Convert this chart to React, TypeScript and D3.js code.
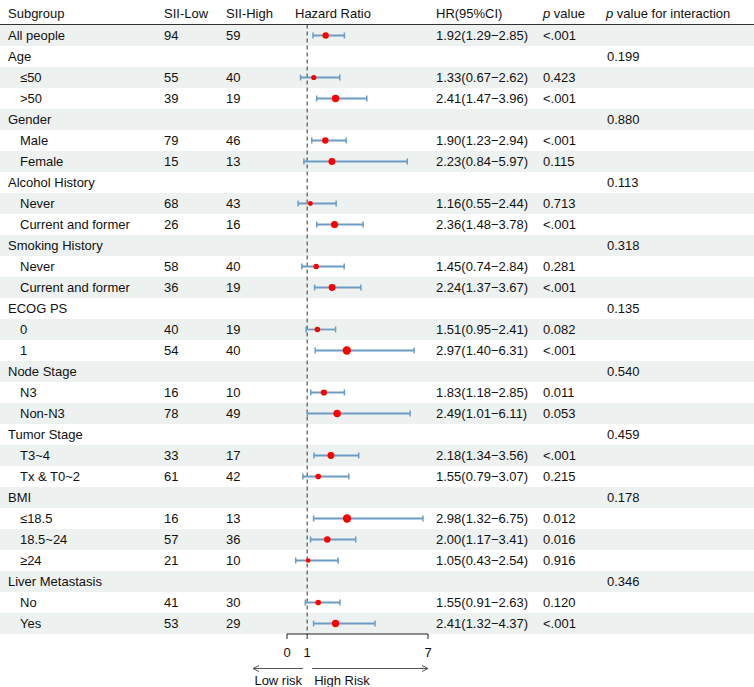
import React from "react";
import * as d3 from "d3";

const labels = ["All people","Age","≤50",">50","Gender","Male","Female","Alcohol History","Never","Current and former","Smoking History","Never","Current and former","ECOG PS","0","1","Node Stage","N3","Non-N3","Tumor Stage","T3~4","Tx & T0~2","BMI","≤18.5","18.5~24","≥24","Liver Metastasis","No","Yes"];
const isGroup = [false,true,false,false,true,false,false,true,false,false,true,false,false,true,false,false,true,false,false,true,false,false,true,false,false,false,true,false,false];
const sizeLow: (number|null)[] = [94,null,55,39,null,79,15,null,68,26,null,58,36,null,40,54,null,16,78,null,33,61,null,16,57,21,null,41,53];
const sizeHigh: (number|null)[] = [59,null,40,19,null,46,13,null,43,16,null,40,19,null,19,40,null,10,49,null,17,42,null,13,36,10,null,30,29];
const hr: (number|null)[] = [1.92,null,1.33,2.41,null,1.90,2.23,null,1.16,2.36,null,1.45,2.24,null,1.51,2.97,null,1.83,2.49,null,2.18,1.55,null,2.98,2.00,1.05,null,1.55,2.41];
const ciLow: (number|null)[] = [1.29,null,0.67,1.47,null,1.23,0.84,null,0.55,1.48,null,0.74,1.37,null,0.95,1.40,null,1.18,1.01,null,1.34,0.79,null,1.32,1.17,0.43,null,0.91,1.32];
const ciHigh: (number|null)[] = [2.85,null,2.62,3.96,null,2.94,5.97,null,2.44,3.78,null,2.84,3.67,null,2.41,6.31,null,2.85,6.11,null,3.56,3.07,null,6.75,3.41,2.54,null,2.63,4.37];
const pValue = ["<.001","","0.423","<.001","","<.001","0.115","","0.713","<.001","","0.281","<.001","","0.082","<.001","","0.011","0.053","","<.001","0.215","","0.012","0.016","0.916","","0.120","<.001"];
const pInteraction = ["","0.199","","","0.880","","","0.113","","","0.318","","","0.135","","","0.540","","","0.459","","","0.178","","","","0.346","",""];
const axisTicks = [0, 1, 7];

const W = 754, H = 687;
const FONT = "'Liberation Sans', Arial, Helvetica, sans-serif";
const ROW_TOP = 25, ROW_H = 21;
const CI_COLOR = "#6d9cc4";
const STRIPE = "#edf1f0";

export default function App() {
  const n = labels.length;
  const y = d3.scaleBand<number>().domain(d3.range(n)).range([ROW_TOP, ROW_TOP + n * ROW_H]).paddingInner(0).paddingOuter(0);
  const x = d3.scaleLinear().domain([0, 7]).range([287, 428]);
  const r = d3.scaleLinear().domain([1, 3]).range([2.3, 4.2]);
  const bottom = ROW_TOP + n * ROW_H;
  const axisY = bottom;
  const fmt = d3.format(".2f");
  const txt = { fontFamily: FONT, fontSize: 13, fill: "#111" } as const;
  const cx = (i: number) => (y(i) as number) + ROW_H / 2;

  return (
    <svg width={W} height={H} style={{ position: "absolute", left: 0, top: 0, background: "#fff" }}>
      {labels.map((_, i) => i % 2 === 0 ? (
        <rect key={"bg" + i} x={0} y={y(i)} width={W} height={ROW_H} fill={STRIPE} />
      ) : null)}
      <line x1={0} x2={W} y1={24.5} y2={24.5} stroke="#333" strokeWidth={1} />
      <g style={txt as any}>
        <text x={8} y={13} dominantBaseline="central" {...txt}>Subgroup</text>
        <text x={164} y={13} dominantBaseline="central" {...txt}>SII-Low</text>
        <text x={226} y={13} dominantBaseline="central" {...txt}>SII-High</text>
        <text x={295} y={13} dominantBaseline="central" {...txt}>Hazard Ratio</text>
        <text x={436} y={13} dominantBaseline="central" {...txt}>HR(95%CI)</text>
        <text x={543} y={13} dominantBaseline="central" {...txt}><tspan fontStyle="italic">p</tspan> value</text>
        <text x={606} y={13} dominantBaseline="central" {...txt}><tspan fontStyle="italic">p</tspan> value for interaction</text>
      </g>
      {labels.map((lab, i) => (
        <g key={"row" + i}>
          <text x={isGroup[i] || i === 0 ? 8 : 20} y={cx(i)} dominantBaseline="central" {...txt}>{lab}</text>
          {sizeLow[i] != null && <text x={164} y={cx(i)} dominantBaseline="central" {...txt}>{sizeLow[i]}</text>}
          {sizeHigh[i] != null && <text x={226} y={cx(i)} dominantBaseline="central" {...txt}>{sizeHigh[i]}</text>}
          {hr[i] != null && <text x={436} y={cx(i)} dominantBaseline="central" {...txt}>{`${fmt(hr[i] as number)}(${fmt(ciLow[i] as number)}−${fmt(ciHigh[i] as number)})`}</text>}
          {pValue[i] && <text x={543} y={cx(i)} dominantBaseline="central" {...txt}>{pValue[i]}</text>}
          {pInteraction[i] && <text x={607} y={cx(i)} dominantBaseline="central" {...txt}>{pInteraction[i]}</text>}
        </g>
      ))}
      <line x1={x(1)} x2={x(1)} y1={24.5} y2={axisY} stroke="#333" strokeWidth={1} strokeDasharray="4,3" />
      {labels.map((_, i) => hr[i] == null ? null : (
        <g key={"ci" + i}>
          <line x1={x(ciLow[i] as number)} x2={x(ciHigh[i] as number)} y1={cx(i)} y2={cx(i)} stroke={CI_COLOR} strokeWidth={1.8} />
          <line x1={x(ciLow[i] as number)} x2={x(ciLow[i] as number)} y1={cx(i) - 3} y2={cx(i) + 3} stroke={CI_COLOR} strokeWidth={1.5} />
          <line x1={x(ciHigh[i] as number)} x2={x(ciHigh[i] as number)} y1={cx(i) - 3} y2={cx(i) + 3} stroke={CI_COLOR} strokeWidth={1.5} />
          <circle cx={x(hr[i] as number)} cy={cx(i)} r={r(hr[i] as number)} fill="#ff0000" />
        </g>
      ))}
      <g>
        <line x1={x(0)} x2={x(7)} y1={axisY} y2={axisY} stroke="#222" strokeWidth={1} />
        {axisTicks.map(t => (
          <g key={"t" + t}>
            <line x1={x(t)} x2={x(t)} y1={axisY} y2={axisY + 5} stroke="#222" strokeWidth={1} />
            <text x={x(t)} y={axisY + 18} textAnchor="middle" dominantBaseline="central" {...txt}>{t}</text>
          </g>
        ))}
        <line x1={x(0.8)} x2={253} y1={axisY + 34.5} y2={axisY + 34.5} stroke="#555" strokeWidth={1} />
        <path d={`M${253 + 6},${axisY + 31.5} L253,${axisY + 34.5} L${253 + 6},${axisY + 37.5}`} fill="none" stroke="#555" strokeWidth={1} />
        <line x1={x(1.25)} x2={x(7)} y1={axisY + 34.5} y2={axisY + 34.5} stroke="#555" strokeWidth={1} />
        <path d={`M${x(7) - 6},${axisY + 31.5} L${x(7)},${axisY + 34.5} L${x(7) - 6},${axisY + 37.5}`} fill="none" stroke="#555" strokeWidth={1} />
        <text x={x(0.75)} y={axisY + 46} textAnchor="end" dominantBaseline="central" {...txt}>Low risk</text>
        <text x={x(1.35)} y={axisY + 46} dominantBaseline="central" {...txt}>High Risk</text>
      </g>
    </svg>
  );
}
